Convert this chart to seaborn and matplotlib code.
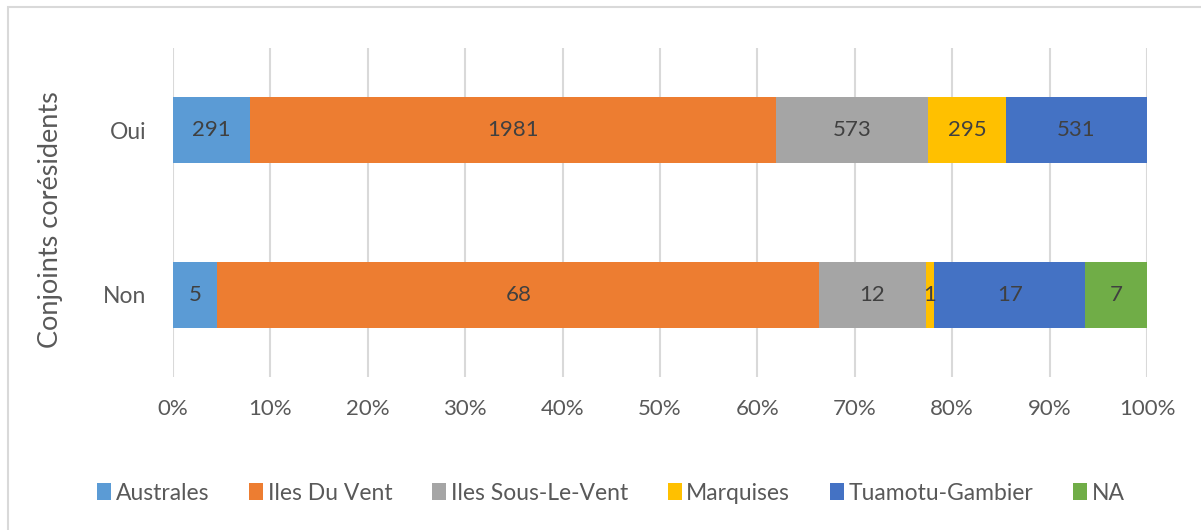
import matplotlib
matplotlib.use("Agg")
import matplotlib.pyplot as plt
import seaborn as sns
import pandas as pd
import numpy as np
from matplotlib.patches import Patch, Rectangle

categories = ["Oui", "Non"]
series = ["Australes", "Iles Du Vent", "Iles Sous-Le-Vent", "Marquises", "Tuamotu-Gambier", "NA"]
australes = [291, 5]
iles_du_vent = [1981, 68]
iles_sous_le_vent = [573, 12]
marquises = [295, 1]
tuamotu_gambier = [531, 17]
na_vals = [0, 7]
colors = ["#5B9BD5", "#ED7D31", "#A5A5A5", "#FFC000", "#4472C4", "#70AD47"]
xtick_labels = ["0%", "10%", "20%", "30%", "40%", "50%", "60%", "70%", "80%", "90%", "100%"]

values = np.array([australes, iles_du_vent, iles_sous_le_vent, marquises, tuamotu_gambier, na_vals], dtype=float)
totals = values.sum(axis=0)
pct = values / totals * 100
cum = np.cumsum(pct, axis=0)

sns.set_theme(style="white")
plt.rcParams["font.family"] = ["Lato", "DejaVu Sans"]

fig = plt.figure(figsize=(12.01, 5.30), dpi=100)
ax = fig.add_axes([173/1201, 1-377/530, (1147-173)/1201, (377-48)/530])

# draw stacked bars: cumulative right edges, largest first
for i in range(len(series) - 1, -1, -1):
    df = pd.DataFrame({"cat": categories, "val": cum[i]})
    sns.barplot(data=df, x="val", y="cat", order=categories, color=colors[i],
                saturation=1, width=0.4, linewidth=0, ax=ax, zorder=3)

# labels
for i in range(len(series)):
    for j, c in enumerate(categories):
        if values[i, j] > 0:
            left = cum[i, j] - pct[i, j]
            ax.text(left + pct[i, j] / 2, j, f"{int(values[i, j])}", ha="center", va="center",
                    fontsize=16, color="#404040", zorder=5)

ax.set_xlim(0, 100)
ax.set_ylim(1.5, -0.5)
ax.set_xticks(np.arange(0, 101, 10))
ax.set_xticklabels(xtick_labels)
ax.grid(axis="x", color="#D9D9D9", linewidth=1.5, zorder=0)
ax.grid(axis="y", visible=False)
for s in ax.spines.values():
    s.set_visible(False)
ax.tick_params(axis="x", length=0, pad=16, labelsize=16, labelcolor="#595959")
ax.tick_params(axis="y", length=0, pad=19, labelsize=16.5, labelcolor="#595959")
ax.set_xlabel("")
ax.set_ylabel("")
fig.text(51/1201, 1-220/530, "Conjoints corésidents", rotation=90, ha="center", va="center",
         fontsize=19.5, color="#595959")

handles = [Patch(facecolor=c, edgecolor="none") for c in colors]
fig.legend(handles, series, loc="center", bbox_to_anchor=(611/1201, 1-493/530), ncol=6,
           frameon=False, fontsize=16.5, labelcolor="#595959", handlelength=0.6, handleheight=0.7,
           handletextpad=0.2, columnspacing=1.75)

fig.patches.append(Rectangle((8/1201, -0.05), 1.0, 1-7/530+0.05, transform=fig.transFigure,
                             fill=False, edgecolor="#D9D9D9", linewidth=1.5))

fig.savefig("out.png", dpi=100)
